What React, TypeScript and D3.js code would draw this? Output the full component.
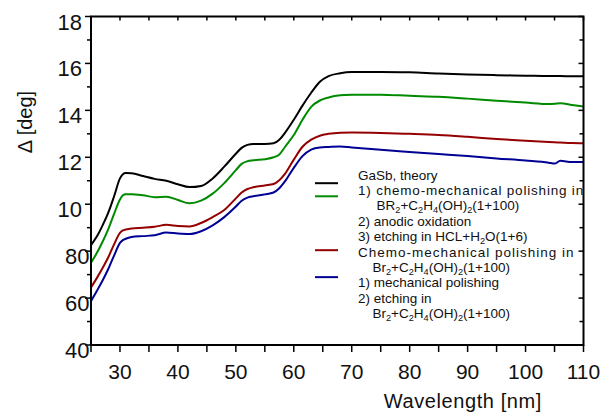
import React from 'react';
import * as d3 from 'd3';

// ---------- data ----------
const wavelength = [25, 26, 27, 28, 29, 30, 30.5, 31, 32, 34, 36, 38, 40, 42, 44, 46, 48, 50, 51, 52, 53, 55, 56.5, 57.5, 58.5, 60, 61.5, 63, 64.5, 66, 68, 70, 75, 80, 85, 90, 95, 100, 104, 105, 106, 108, 110];

const gasbTheory = [8.26, 8.62, 9.1, 9.65, 10.35, 11.1, 11.28, 11.33, 11.32, 11.2, 11.08, 11.0, 10.85, 10.73, 10.78, 11.1, 11.6, 12.15, 12.4, 12.53, 12.57, 12.57, 12.6, 12.75, 13.05, 13.6, 14.2, 14.75, 15.22, 15.46, 15.58, 15.63, 15.64, 15.62, 15.57, 15.53, 15.5, 15.48, 15.46, 15.46, 15.46, 15.45, 15.45];

const chemoAnodicEtch = [7.5, 7.92, 8.4, 8.95, 9.6, 10.2, 10.38, 10.43, 10.43, 10.38, 10.3, 10.32, 10.18, 10.04, 10.15, 10.45, 10.9, 11.45, 11.72, 11.83, 11.87, 11.92, 12.0, 12.12, 12.45, 12.95, 13.6, 14.15, 14.42, 14.55, 14.64, 14.66, 14.67, 14.62, 14.58, 14.5, 14.41, 14.33, 14.27, 14.28, 14.3, 14.23, 14.16];

const chemoMech = [6.45, 6.85, 7.28, 7.75, 8.3, 8.78, 8.88, 8.92, 8.97, 9.0, 9.04, 9.12, 9.07, 9.05, 9.2, 9.45, 9.75, 10.25, 10.5, 10.65, 10.72, 10.8, 10.86, 11.02, 11.3, 11.9, 12.45, 12.75, 12.92, 13.0, 13.05, 13.06, 13.04, 13.0, 12.95, 12.87, 12.78, 12.7, 12.65, 12.64, 12.63, 12.61, 12.6];

const mechEtch = [5.87, 6.3, 6.75, 7.25, 7.82, 8.35, 8.47, 8.53, 8.6, 8.64, 8.68, 8.79, 8.75, 8.73, 8.85, 9.1, 9.45, 9.9, 10.15, 10.28, 10.34, 10.42, 10.5, 10.68, 10.98, 11.55, 12.05, 12.33, 12.42, 12.44, 12.46, 12.42, 12.32, 12.23, 12.14, 12.05, 11.95, 11.86, 11.77, 11.73, 11.85, 11.8, 11.8];

const xTickValues = [30, 40, 50, 60, 70, 80, 90, 100, 110];
const xMinorValues = [25, 35, 45, 55, 65, 75, 85, 95, 105];
const yTickValues = [4, 6, 8, 10, 12, 14, 16, 18];
const yTickLabels = ['40', '60', '80', '10', '12', '14', '16', '18'];
const yMinorValues = [5, 7, 9, 11, 13, 15, 17];

const seriesNames = ['GaSb, theory', 'chemo-mech + anodic + etch', 'chemo-mech', 'mech + etch'];
const seriesColors = ['#000000', '#008a00', '#940000', '#000094'];

// legend text lines ("_n" marks a subscript digit)
const legendLines = [
  'GaSb, theory',
  '1) chemo-mechanical polishing in',
  'BR_2+C_2H_4(OH)_2(1+100)',
  '2) anodic oxidation',
  '3) etching in HCL+H_2O(1+6)',
  'Chemo-mechanical polishing in',
  'Br_2+C_2H_4(OH)_2(1+100)',
  '1) mechanical polishing',
  '2) etching in',
  'Br_2+C_2H_4(OH)_2(1+100)',
];

// ---------- layout ----------
const W = 609;
const H = 414;
const left = 91;
const right = 583.5;
const top = 16.5;
const bottom = 345;
const FONT = "'Liberation Sans', Arial, sans-serif";
const legendIndent = [0, 0, 18.5, 0, 0, 0, 14.5, 0, 0, 14.5];
const legendSpacing = [0, 0.8, 0, 0, 0, 1.0, 0, 0, 0, 0];
const legendSwatchRow = [0.5, 1.35, 4.85, 6.6];

function SubText({ s, x, y, size, spacing }: { s: string; x: number; y: number; size: number; spacing: number }) {
  const parts = s.split(/(_\d)/).filter((p) => p.length > 0);
  let shifted = false;
  const out: React.ReactNode[] = [];
  parts.forEach((p, i) => {
    if (p.startsWith('_')) {
      out.push(
        <tspan key={i} fontSize={size * 0.68} dy={shifted ? 0 : 3}>
          {p.slice(1)}
        </tspan>
      );
      shifted = true;
    } else {
      out.push(
        <tspan key={i} dy={shifted ? -3 : 0}>
          {p}
        </tspan>
      );
      shifted = false;
    }
  });
  return (
    <text x={x} y={y} fontSize={size} fontFamily={FONT} fill="#111" letterSpacing={spacing}>
      {out}
    </text>
  );
}

export default function App() {
  const x = d3.scaleLinear().domain([25, 110]).range([left, right]);
  const y = d3.scaleLinear().domain([4, 18]).range([bottom, top]);

  const allSeries = [gasbTheory, chemoAnodicEtch, chemoMech, mechEtch];
  const line = d3
    .line<[number, number]>()
    .x((d) => x(d[0]))
    .y((d) => y(d[1]))
    .curve(d3.curveMonotoneX);

  const legendX = 358;
  const legendY0 = 179.5;
  const legendStep = 15.4;

  return (
    <svg
      width={W}
      height={H}
      style={{ position: 'absolute', left: 0, top: 0, background: '#fff' }}
      fontFamily={FONT}
    >
      <rect x={0} y={0} width={W} height={H} fill="#fff" />
      {/* curves */}
      <g fill="none" strokeWidth={2} strokeLinejoin="round">
        {allSeries.map((vals, i) => (
          <path
            key={seriesNames[i]}
            d={line(wavelength.map((w, j) => [w, vals[j]] as [number, number])) || ''}
            stroke={seriesColors[i]}
          />
        ))}
      </g>

      {/* frame */}
      <rect x={left} y={top} width={right - left} height={bottom - top} fill="none" stroke="#000" strokeWidth={2} />

      {/* ticks: bottom/left outward, top/right inward */}
      <g stroke="#000" strokeWidth={1.5}>
        {[...xTickValues, ...xMinorValues].map((v) => (
          <g key={'xt' + v}>
            <line x1={x(v)} x2={x(v)} y1={bottom} y2={bottom + 7} />
            <line x1={x(v)} x2={x(v)} y1={top} y2={top + 4} />
          </g>
        ))}
        {yTickValues.map((v) => (
          <g key={'yt' + v}>
            <line x1={left - 6} x2={left} y1={y(v)} y2={y(v)} />
            <line x1={right - 5} x2={right} y1={y(v)} y2={y(v)} />
          </g>
        ))}
        {yMinorValues.map((v) => (
          <g key={'ym' + v}>
            <line x1={left - 4} x2={left} y1={y(v)} y2={y(v)} />
            <line x1={right - 4} x2={right} y1={y(v)} y2={y(v)} />
          </g>
        ))}
      </g>

      {/* x tick labels */}
      <g fontSize={21} textAnchor="middle" fill="#111">
        {xTickValues.map((v) => (
          <text key={'xl' + v} x={x(v)} y={378.5}>
            {v}
          </text>
        ))}
      </g>

      {/* y tick labels */}
      <g fontSize={22} textAnchor="end" fill="#111">
        {yTickValues.map((v, i) => (
          <text key={'yl' + v} x={v >= 10 ? 82 : 89.5} y={y(v) + 13}>
            {yTickLabels[i]}
          </text>
        ))}
      </g>

      {/* axis titles */}
      <text x={542} y={408} fontSize={20} textAnchor="end" fill="#111" letterSpacing={0.6}>
        Wavelength [nm]
      </text>
      <text
        transform={`translate(32, 122) rotate(-90)`}
        fontSize={20}
        textAnchor="middle"
        fill="#111"
      >
        Δ [deg]
      </text>

      {/* legend */}
      <g>
        {legendSwatchRow.map((r, i) => (
          <line
            key={'sw' + i}
            x1={315}
            x2={338}
            y1={legendY0 - 4.5 + r * legendStep + 0.5}
            y2={legendY0 - 4.5 + r * legendStep + 0.5}
            stroke={seriesColors[i]}
            strokeWidth={2}
          />
        ))}
        {legendLines.map((s, i) => (
          <SubText
            key={'lg' + i}
            s={s}
            x={legendX + legendIndent[i]}
            y={legendY0 + i * legendStep}
            size={13.5}
            spacing={legendSpacing[i]}
          />
        ))}
      </g>
    </svg>
  );
}
